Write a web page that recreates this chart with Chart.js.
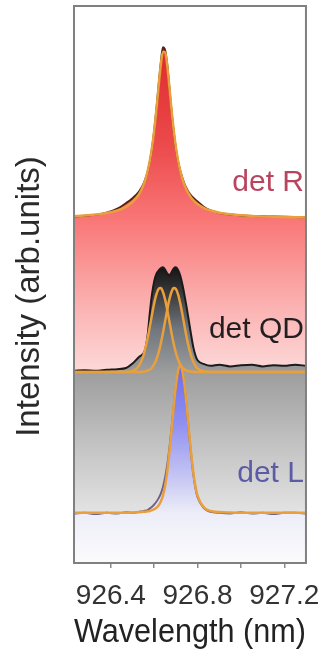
<!DOCTYPE html>
<html>
<head>
<meta charset="utf-8">
<script src="https://cdn.jsdelivr.net/npm/chart.js@4.4.1/dist/chart.umd.min.js"></script>
<style>
  html, body { margin: 0; padding: 0; background: #fff; }
  #wrap { width: 332px; height: 668px; position: relative; }
</style>
</head>
<body>
<div id="wrap"><canvas id="specChart"></canvas></div>
<script>
// wavelength grid (nm)
var wavelength = [926.23, 926.28, 926.33, 926.38, 926.43, 926.47, 926.50, 926.53,
  926.55, 926.56, 926.57, 926.58, 926.59, 926.60, 926.61, 926.62, 926.63, 926.64, 926.65,
  926.66, 926.67, 926.68, 926.69, 926.70, 926.71, 926.72, 926.73, 926.74, 926.75, 926.76,
  926.77, 926.78, 926.79, 926.80,
  926.83, 926.86, 926.90, 926.95, 927.00, 927.05, 927.10, 927.15, 927.20, 927.25, 927.30];

// det R (offset trace, top)
var detRData = [62.20, 62.35, 62.50, 62.90, 63.60, 64.60, 65.50, 66.70,
  68.00, 69.00, 70.30, 72.10, 74.50, 77.60, 81.40, 85.60, 89.60, 92.60, 92.10,
  89.50, 85.30, 81.10, 77.40, 74.40, 72.10, 70.40, 69.10, 68.00, 67.20, 66.50,
  66.00, 65.60, 65.20, 64.90,
  63.90, 63.30, 62.85, 62.55, 62.40, 62.30, 62.25, 62.20, 62.15, 62.10, 62.05];
var detRFit = [62.28, 62.39, 62.56, 62.82, 63.28, 63.93, 64.77, 66.22,
  67.84, 68.97, 70.41, 72.27, 74.64, 77.65, 81.32, 85.44, 89.31, 91.76, 91.76,
  89.31, 85.44, 81.32, 77.65, 74.64, 72.27, 70.41, 68.97, 67.84, 66.94, 66.22,
  65.64, 65.17, 64.77, 64.44,
  63.73, 63.28, 62.89, 62.60, 62.42, 62.30, 62.22, 62.16, 62.11, 62.08, 62.05];

// det QD (middle trace, two fitted lines)
var detQDData = [34.5, 34.6, 34.5, 34.7, 34.8, 35.0, 35.8, 37.0,
  37.6, 38.6, 41.0, 45.0, 48.3, 50.6, 51.9, 52.5, 52.9, 53.1, 52.7,
  52.0, 51.7, 52.2, 52.9, 53.1, 52.6, 51.6, 50.0, 48.0, 45.8, 43.4,
  41.0, 38.8, 37.3, 36.4,
  35.7, 35.4, 35.6, 35.3, 35.5, 35.6, 35.3, 35.5, 35.4, 35.6, 35.4];
var detQDFit1 = [34.30, 34.30, 34.30, 34.30, 34.30, 34.30, 34.47, 35.42,
  37.23, 38.66, 40.45, 42.49, 44.64, 46.64, 48.24, 49.19, 49.36, 48.71, 47.34,
  45.47, 43.35, 41.24, 39.33, 37.75, 36.54, 35.68, 35.10, 34.74, 34.53, 34.41,
  34.35, 34.32, 34.30, 34.30,
  34.30, 34.30, 34.30, 34.30, 34.30, 34.30, 34.30, 34.30, 34.30, 34.30, 34.30];
var detQDFit2 = [34.30, 34.30, 34.30, 34.30, 34.30, 34.30, 34.30, 34.30,
  34.35, 34.41, 34.53, 34.74, 35.10, 35.68, 36.54, 37.75, 39.33, 41.24, 43.35,
  45.47, 47.34, 48.71, 49.36, 49.19, 48.24, 46.64, 44.64, 42.49, 40.45, 38.66,
  37.23, 36.16, 35.42, 34.93,
  34.38, 34.30, 34.30, 34.30, 34.30, 34.30, 34.30, 34.30, 34.30, 34.30, 34.30];

// det L (bottom trace)
var detLData = [8.9, 9.0, 8.8, 9.0, 8.9, 9.1, 9.0, 9.2,
  9.3, 9.4, 9.5, 9.8, 10.1, 10.5, 11.0, 11.6, 12.4, 13.6, 15.3,
  17.6, 20.6, 24.2, 28.2, 31.7, 34.2, 35.3, 34.3, 31.6, 27.8, 23.5,
  19.5, 16.0, 13.5, 11.8,
  9.8, 9.2, 9.0, 8.9, 9.1, 8.9, 9.0, 8.8, 9.0, 9.0, 8.9];
var detLFit = [9.00, 9.00, 9.00, 9.00, 9.00, 9.00, 9.06, 9.12,
  9.18, 9.22, 9.27, 9.34, 9.48, 9.66, 9.93, 10.33, 10.99, 12.05, 13.77,
  16.42, 19.87, 23.84, 28.08, 31.79, 34.44, 35.50, 34.44, 31.79, 28.08, 23.84,
  19.87, 16.42, 13.77, 12.05,
  9.93, 9.34, 9.15, 9.05, 9.00, 9.00, 9.00, 9.00, 9.00, 9.00, 9.00];

var xTicks = [926.4, 926.6, 926.8, 927.0, 927.2];
var xTickLabels = ['926.4', '', '926.8', '', '927.2'];

var FONT = "'Liberation Sans', Arial, Helvetica, sans-serif";
var ORANGE = '#e9a03c';

function pts(ys) {
  var out = [];
  for (var i = 0; i < wavelength.length; i++) {
    out.push({x: wavelength[i], y: ys[i]});
  }
  return out;
}

// vertical gradient, stops given in y-axis units
function gradFill(stops) {
  return function(context) {
    var chart = context.chart;
    if (!chart.chartArea) return 'transparent';
    var y = chart.scales.y;
    var top = y.getPixelForValue(stops[0][0]);
    var bot = y.getPixelForValue(stops[stops.length - 1][0]);
    var g = chart.ctx.createLinearGradient(0, top, 0, bot);
    for (var i = 0; i < stops.length; i++) {
      var p = (y.getPixelForValue(stops[i][0]) - top) / (bot - top);
      g.addColorStop(Math.min(1, Math.max(0, p)), stops[i][1]);
    }
    return g;
  };
}

var frameAndLabels = {
  id: 'frameAndLabels',
  afterDatasetsDraw: function(chart) {
    var c = chart.ctx, a = chart.chartArea, y = chart.scales.y;
    c.save();
    c.font = '30px ' + FONT;
    c.textAlign = 'right';
    c.textBaseline = 'middle';
    var labels = [['det R', 68.2, '#b9445e'], ['det QD', 41.8, '#231f20'], ['det L', 16.0, '#5b5ba6']];
    labels.forEach(function(l) {
      c.fillStyle = l[2];
      c.fillText(l[0], a.right - 2, y.getPixelForValue(l[1]));
    });
    c.strokeStyle = '#808080';
    c.lineWidth = 2;
    c.strokeRect(a.left, a.top, a.right - a.left, a.bottom - a.top);

    // y axis title, a little below the axis middle as in the figure
    c.translate(30, (a.top + a.bottom) / 2 + 12);
    c.rotate(-Math.PI / 2);
    c.textAlign = 'center';
    c.fillStyle = '#2a2a2a';
    c.font = '33px ' + FONT;
    c.fillText('Intensity (arb.units)', 0, 0);
    c.restore();
  }
};

var lineBase = {pointRadius: 0, cubicInterpolationMode: 'monotone', fill: false};

new Chart(document.getElementById('specChart'), {
  type: 'line',
  data: {
    datasets: [
      Object.assign({}, lineBase, {label: 'det R', data: pts(detRData), order: 7,
        borderColor: '#5a1e16', borderWidth: 2, fill: 'origin',
        backgroundColor: gradFill([[92.5, '#df2a2c'], [75, '#ec4a4c'], [62, '#f97575'], [48, '#fbabab'], [34, '#fddada']])}),
      Object.assign({}, lineBase, {label: 'det R fit', data: pts(detRFit), order: 6,
        borderColor: ORANGE, borderWidth: 2.5}),
      Object.assign({}, lineBase, {label: 'det QD', data: pts(detQDData), order: 5,
        borderColor: '#1b1b1b', borderWidth: 2, fill: 'origin',
        backgroundColor: gradFill([[53.5, '#111111'], [48, '#3e3e40'], [42, '#6f767e'], [34, '#9e9e9e'], [20, '#c6c6c6'], [9, '#e3e3e3']])}),
      Object.assign({}, lineBase, {label: 'det QD fit 1', data: pts(detQDFit1), order: 4,
        borderColor: ORANGE, borderWidth: 2.5}),
      Object.assign({}, lineBase, {label: 'det QD fit 2', data: pts(detQDFit2), order: 3,
        borderColor: ORANGE, borderWidth: 2.5}),
      Object.assign({}, lineBase, {label: 'det L', data: pts(detLData), order: 2,
        borderColor: '#6f6486', borderWidth: 2, fill: 'origin',
        backgroundColor: gradFill([[35.5, '#6a6af0'], [25, '#9090f0'], [15, '#c8c8f4'], [9, '#ededf8'], [0, '#fbfbfd']])}),
      Object.assign({}, lineBase, {label: 'det L fit', data: pts(detLFit), order: 1,
        borderColor: ORANGE, borderWidth: 2.5})
    ]
  },
  options: {
    responsive: true,
    maintainAspectRatio: false,
    animation: false,
    layout: {padding: {top: 6, right: 18, left: 0, bottom: 0}},
    plugins: {legend: {display: false}, tooltip: {enabled: false}},
    scales: {
      x: {
        type: 'linear',
        min: 926.23,
        max: 927.30,
        afterBuildTicks: function(scale) {
          scale.ticks = xTicks.map(function(v) { return {value: v}; });
        },
        afterFit: function(scale) { scale.height = 105; },
        grid: {display: true, drawOnChartArea: false, drawTicks: true, tickLength: 5, color: '#8a8a8a', lineWidth: 1.5},
        border: {display: false},
        ticks: {
          padding: 11,
          maxRotation: 0,
          autoSkip: false,
          color: '#333333',
          font: {family: FONT, size: 28},
          callback: function(value, index) { return xTickLabels[index]; }
        },
        title: {display: true, text: 'Wavelength (nm)', color: '#222222',
          font: {family: FONT, size: 33}, padding: {top: 0, bottom: 15}}
      },
      y: {
        min: 0,
        max: 100,
        afterFit: function(scale) { scale.width = 74; },
        grid: {display: false},
        border: {display: false},
        ticks: {display: false},
        title: {display: false}
      }
    }
  },
  plugins: [frameAndLabels]
});
</script>
</body>
</html>
